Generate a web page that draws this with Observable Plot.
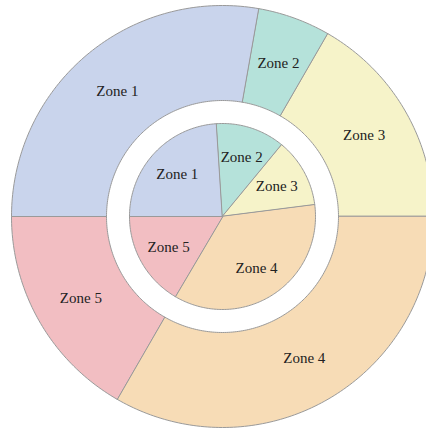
<!DOCTYPE html>
<html>
<head>
<meta charset="utf-8">
<script src="https://cdn.jsdelivr.net/npm/d3@7"></script>
<script src="https://cdn.jsdelivr.net/npm/@observablehq/plot@0.6"></script>
<style>
  html, body { margin: 0; padding: 0; background: #fff; }
  #chart { width: 426px; height: 428px; overflow: hidden; }
</style>
</head>
<body>
<div id="chart"></div>
<script>
const zones = ["Zone 1", "Zone 2", "Zone 3", "Zone 4", "Zone 5"];
const outerValues = [5, 1, 3, 6, 3];
const innerValues = [24, 12, 12, 35.5, 16.5];
const zoneColors = ["#c9d4ec", "#b5e2da", "#f6f3c9", "#f7dcb6", "#f2bec2"];

// ring geometry (in chart units)
const R_OUT = 211, R_RING_IN = 116, R_PIE = 93;
const LABEL_OUT = (R_OUT + R_RING_IN) / 2, LABEL_IN = 62;

const pie = d3.pie().sort(null).startAngle(-Math.PI / 2).endAngle(3 * Math.PI / 2);

function slicePolys(values, r0, r1, ring) {
  const arcs = pie(values);
  const pts = [];
  arcs.forEach((a, i) => {
    const n = Math.max(2, Math.ceil((a.endAngle - a.startAngle) / (Math.PI / 180)) + 1);
    const outer = d3.range(n).map(k => a.startAngle + (a.endAngle - a.startAngle) * k / (n - 1));
    outer.forEach(t => pts.push({ zone: zones[i], ring, x: r1 * Math.sin(t), y: r1 * Math.cos(t) }));
    if (r0 > 0) {
      outer.slice().reverse().forEach(t => pts.push({ zone: zones[i], ring, x: r0 * Math.sin(t), y: r0 * Math.cos(t) }));
    } else {
      pts.push({ zone: zones[i], ring, x: 0, y: 0 });
    }
  });
  return pts;
}
function labels(values, r, ring) {
  return pie(values).map((a, i) => {
    const t = (a.startAngle + a.endAngle) / 2;
    return { zone: zones[i], ring, x: r * Math.sin(t), y: r * Math.cos(t) };
  });
}

const outerPts = slicePolys(outerValues, R_RING_IN, R_OUT, "outer");
const innerPts = slicePolys(innerValues, 0, R_PIE, "inner");
const labelData = [...labels(outerValues, LABEL_OUT, "outer"), ...labels(innerValues, LABEL_IN, "inner")];

const chart = Plot.plot({
  width: 426,
  height: 428,
  margin: 0,
  style: { background: "#fff", overflow: "hidden" },
  x: { domain: [-R_OUT, R_OUT], range: [11, 433], axis: null },
  y: { domain: [-R_OUT, R_OUT], range: [427, 5], axis: null },
  color: { domain: zones, range: zoneColors },
  marks: [
    Plot.line(outerPts, { x: "x", y: "y", z: "zone", fill: "zone", stroke: "#9a9a9a", strokeWidth: 1, curve: "linear-closed" }),
    Plot.line(innerPts, { x: "x", y: "y", z: "zone", fill: "zone", stroke: "#9a9a9a", strokeWidth: 1, curve: "linear-closed" }),
    Plot.text(labelData, { x: "x", y: "y", text: "zone", fontFamily: "Liberation Serif", fontSize: 15, fill: "#222" })
  ]
});
document.getElementById("chart").appendChild(chart);
</script>
</body>
</html>
